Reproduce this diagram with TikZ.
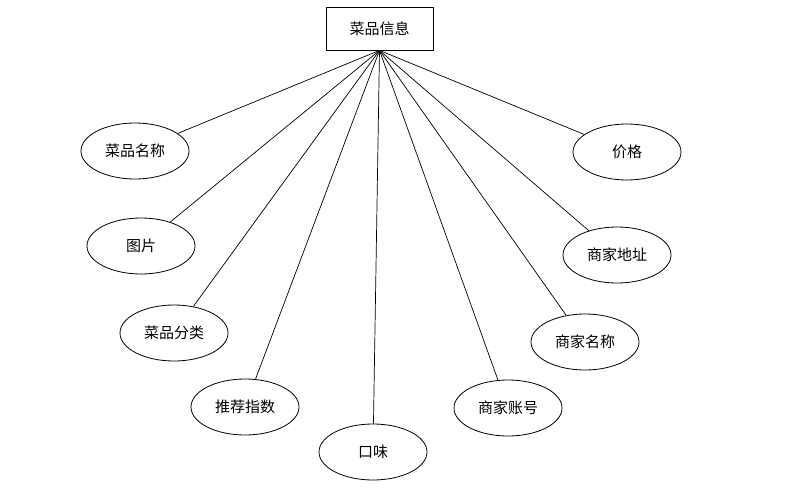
\documentclass[tikz,border=0pt]{standalone}
\usepackage{fontspec}
\newfontfamily\cjk{Noto Sans CJK SC}
\usetikzlibrary{shapes.geometric}
\begin{document}
\begin{tikzpicture}[x=1pt,y=-1pt,
  attr/.style={draw, ellipse, line width=0.8pt, minimum width=108pt, minimum height=56pt, inner sep=0pt, font=\cjk\fontsize{15}{15}\selectfont},
  entity/.style={draw, rectangle, line width=0.8pt, minimum width=107pt, minimum height=43pt, inner sep=0pt, font=\cjk\fontsize{15}{15}\selectfont},
  link/.style={line width=0.7pt}]
\useasboundingbox (0,0) rectangle (786,503);
\node[entity] (top) at (379.5,28.5) {菜品信息};
\coordinate (hub) at (top.south);
\node[attr] (a1) at (135,151) {菜品名称};
\node[attr] (a2) at (141,246) {图片};
\node[attr] (a3) at (174,333) {菜品分类};
\node[attr] (a4) at (245,407) {推荐指数};
\node[attr] (a5) at (373,452) {口味};
\node[attr] (a6) at (508,408) {商家账号};
\node[attr] (a7) at (585,342) {商家名称};
\node[attr] (a8) at (617,255) {商家地址};
\node[attr] (a9) at (627,152) {价格};
\foreach \n in {a1,a2,a3,a4,a5,a6,a7,a8,a9}
  \draw[link] (hub) -- (\n);
\end{tikzpicture}
\end{document}
